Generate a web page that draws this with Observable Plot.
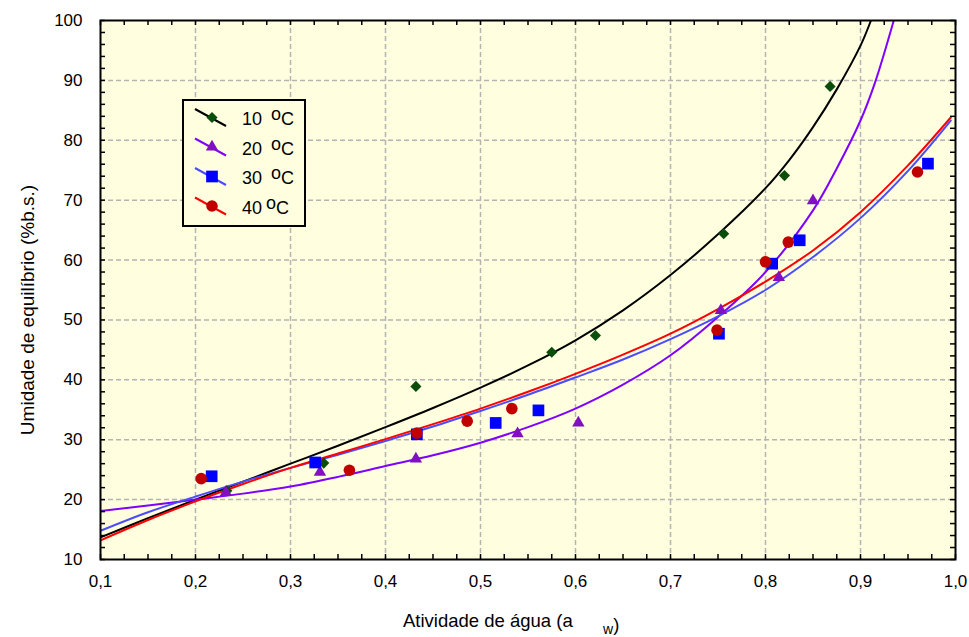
<!DOCTYPE html>
<html>
<head>
<meta charset="utf-8">
<script src="https://cdn.jsdelivr.net/npm/d3@7"></script>
<script src="https://cdn.jsdelivr.net/npm/@observablehq/plot@0.6"></script>
<style>
  body { margin: 0; background: white; }
  #chart { width: 969px; height: 637px; }
</style>
</head>
<body>
<div id="chart"></div>
<script>
// ---- tick labels ----
const xTicks = [0.1, 0.2, 0.3, 0.4, 0.5, 0.6, 0.7, 0.8, 0.9, 1.0];
const yTicks = [10, 20, 30, 40, 50, 60, 70, 80, 90, 100];

// ---- legend / series names ----
const seriesNames = ["10", "20", "30", "40"];

// ---- experimental points ----
const aw10 = [0.233, 0.335, 0.432, 0.575, 0.621, 0.756, 0.820, 0.868];
const m10  = [21.5, 26.1, 38.9, 44.6, 47.4, 64.4, 74.1, 89.0];
const aw20 = [0.232, 0.331, 0.432, 0.539, 0.603, 0.753, 0.814, 0.850];
const m20  = [21.2, 24.6, 26.8, 31.0, 32.8, 51.6, 57.1, 69.9];
const aw30 = [0.217, 0.326, 0.433, 0.516, 0.561, 0.751, 0.807, 0.836, 0.971];
const m30  = [23.9, 26.2, 30.9, 32.8, 34.9, 47.7, 59.4, 63.3, 76.1];
const aw40 = [0.206, 0.362, 0.433, 0.486, 0.533, 0.749, 0.800, 0.824, 0.960];
const m40  = [23.5, 24.9, 31.1, 33.1, 35.2, 48.3, 59.7, 63.0, 74.7];

// ---- fitted curves ----
const fit10x = [0.1, 0.15, 0.2, 0.25, 0.3, 0.35, 0.4, 0.45, 0.5, 0.55, 0.6, 0.65, 0.7, 0.75, 0.8, 0.825, 0.85, 0.875, 0.9, 0.911];
const fit10y = [13.7, 16.9, 20.0, 23.0, 26.0, 29.0, 32.1, 35.3, 38.7, 42.4, 46.6, 51.6, 57.5, 64.3, 72.0, 76.7, 82.2, 88.5, 95.8, 100];
const fit20x = [0.1, 0.15, 0.2, 0.25, 0.3, 0.35, 0.4, 0.45, 0.5, 0.55, 0.6, 0.65, 0.7, 0.75, 0.8, 0.85, 0.875, 0.9, 0.915, 0.935];
const fit20y = [18.1, 19.0, 20.0, 21.0, 22.2, 23.8, 25.6, 27.4, 29.5, 32.1, 35.2, 39.2, 44.1, 50.5, 58.0, 68.3, 75.3, 83.3, 89.5, 100];
const fit30x = [0.1, 0.15, 0.2, 0.25, 0.3, 0.35, 0.4, 0.45, 0.5, 0.55, 0.6, 0.65, 0.7, 0.75, 0.8, 0.85, 0.9, 0.95, 0.995];
const fit30y = [14.8, 17.9, 20.5, 23.0, 25.3, 27.5, 29.8, 32.2, 34.8, 37.5, 40.4, 43.4, 46.8, 50.6, 55.0, 60.5, 67.0, 74.9, 83.3];
const fit40x = [0.1, 0.15, 0.2, 0.25, 0.3, 0.35, 0.4, 0.45, 0.5, 0.55, 0.6, 0.65, 0.7, 0.75, 0.8, 0.85, 0.9, 0.95, 0.995];
const fit40y = [13.2, 16.6, 19.7, 22.6, 25.3, 27.7, 30.1, 32.6, 35.2, 38.0, 41.0, 44.2, 47.7, 51.8, 56.4, 61.6, 68.0, 75.8, 83.8];

// ---- styling ----
const FONT = '"Liberation Sans", Arial, Helvetica, sans-serif';
const BG = "#ffffe0";
const GRID = "#b4b4b4";
const lineColors = ["#000000", "#7f00ff", "#4c4cff", "#ff0000"];
const markColors = ["#0b4d0b", "#8010c0", "#0000ff", "#c00000"];
const symbols = ["diamond2", "triangle", "square", "circle"];
const radii = [5.0, 4.6, 6.6, 5.8];

const zip = (xs, ys) => xs.map((x, i) => ({x, y: ys[i]}));
const fits = [zip(fit10x, fit10y), zip(fit20x, fit20y), zip(fit30x, fit30y), zip(fit40x, fit40y)];
const pts = [zip(aw10, m10), zip(aw20, m20), zip(aw30, m30), zip(aw40, m40)];

const xMinor = d3.range(0.1, 1.0001, 0.025).map(v => +v.toFixed(3));
const yMinor = d3.range(10, 100.001, 2);

const W = 969, H = 637, mL = 100, mR = 14, mT = 20, mB = 78;
const fw = W - mL - mR, fh = H - mT - mB;
const tk = 5;

const chart = Plot.plot({
  width: W, height: H,
  marginLeft: mL, marginRight: mR, marginTop: mT, marginBottom: mB,
  x: {domain: [0.1, 1.0]},
  y: {domain: [10, 100]},
  style: {fontFamily: FONT, fontSize: "17px", color: "black", background: "white", overflow: "visible"},
  marks: [
    Plot.frame({fill: BG}),
    Plot.ruleX(xTicks.slice(1, -1), {stroke: GRID, strokeWidth: 1.5, strokeDasharray: "5,3"}),
    Plot.ruleY(yTicks.slice(1, -1), {stroke: GRID, strokeWidth: 1.5, strokeDasharray: "5,3"}),
    ...fits.map((f, i) => Plot.line(f, {x: "x", y: "y", stroke: lineColors[i], strokeWidth: 2, curve: "catmull-rom", clip: true})),
    ...pts.map((p, i) => Plot.dot(p, {x: "x", y: "y", symbol: symbols[i], r: radii[i], fill: markColors[i], stroke: "none"})),
    Plot.ruleX(xMinor, {stroke: "black", strokeWidth: 1.5, insetTop: fh - tk}),
    Plot.ruleX(xMinor, {stroke: "black", strokeWidth: 1.5, insetBottom: fh - tk}),
    Plot.ruleY(yMinor, {stroke: "black", strokeWidth: 1.5, insetRight: fw - tk}),
    Plot.ruleY(yMinor, {stroke: "black", strokeWidth: 1.5, insetLeft: fw - tk}),
    Plot.frame({stroke: "black", strokeWidth: 2}),
    Plot.axisX({ticks: xTicks, tickSize: 0, tickPadding: 15, label: null, fontSize: 17,
      tickFormat: d => d.toFixed(1).replace(".", ",")}),
    Plot.axisY({ticks: yTicks, tickSize: 0, tickPadding: 18, label: null, fontSize: 17})
  ]
});

document.getElementById("chart").appendChild(chart);

const svg = d3.select(chart);

// x-axis title with subscript
const xt = svg.append("text")
  .attr("x", 403).attr("y", 627).attr("text-anchor", "start")
  .attr("font-family", FONT).attr("font-size", 18.5).attr("fill", "black");
xt.append("tspan").text("Atividade de água (a");
xt.append("tspan").attr("x", 603).attr("dy", 7).attr("font-size", 14).text("w");
xt.append("tspan").attr("dy", -3).text(")");

// y-axis title
svg.append("text")
  .attr("transform", "translate(34,310) rotate(-90)")
  .attr("text-anchor", "middle")
  .attr("font-family", FONT).attr("font-size", 19).attr("fill", "black")
  .text("Umidade de equilíbrio (%b.s.)");

// legend
const lg = svg.append("g").attr("text-anchor", "start");
lg.append("rect").attr("x", 183).attr("y", 100).attr("width", 122).attr("height", 126)
  .attr("fill", BG).attr("stroke", "black").attr("stroke-width", 2);
const d3sym = {diamond2: d3.symbolDiamond2, triangle: d3.symbolTriangle, square: d3.symbolSquare, circle: d3.symbolCircle};
seriesNames.forEach((name, i) => {
  const dy = i * 29.5;
  lg.append("line").attr("x1", 195).attr("y1", 109 + dy).attr("x2", 226).attr("y2", 126 + dy)
    .attr("stroke", lineColors[i]).attr("stroke-width", 2);
  lg.append("path")
    .attr("d", d3.symbol(d3sym[symbols[i]], Math.PI * radii[i] * radii[i])())
    .attr("transform", `translate(212,${117.5 + dy})`)
    .attr("fill", markColors[i]);
  const t = lg.append("text").attr("x", 242).attr("y", 125 + dy)
    .attr("font-family", FONT).attr("font-size", 18).attr("fill", "black");
  t.append("tspan").text(name);
  t.append("tspan").attr("x", i === 3 ? 266 : 271).attr("dy", -5).text("o");
  t.append("tspan").attr("x", i === 3 ? 276 : 281).attr("dy", 5).text("C");
});
</script>
</body>
</html>
